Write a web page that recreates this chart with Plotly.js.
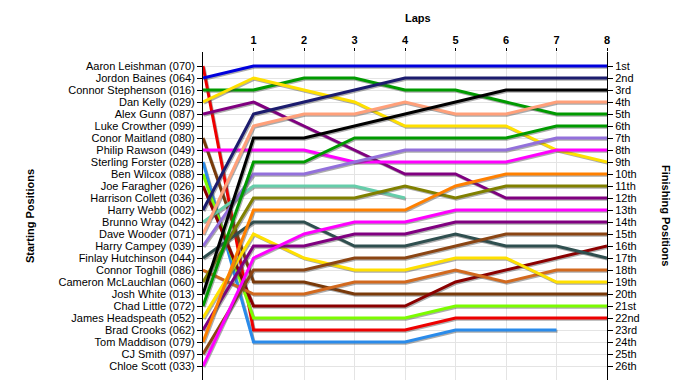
<!DOCTYPE html>
<html>
<head>
<meta charset="utf-8">
<script src="https://cdn.plot.ly/plotly-3.0.1.min.js"></script>
<style>
  html, body { margin: 0; padding: 0; background: #ffffff; }
  #chart { width: 700px; height: 390px; }
</style>
</head>
<body>
<div id="chart"></div>
<script>
// ---------- DATA ----------
const laps = [0, 1, 2, 3, 4, 5, 6, 7, 8];
const lapTicks = [1, 2, 3, 4, 5, 6, 7, 8];

const startNames = [
  "Aaron Leishman (070)", "Jordon Baines (064)", "Connor Stephenson (016)", "Dan Kelly (029)",
  "Alex Gunn (087)", "Luke Crowther (099)", "Conor Maitland (080)", "Philip Rawson (049)",
  "Sterling Forster (028)", "Ben Wilcox (088)", "Joe Faragher (026)", "Harrison Collett (036)",
  "Harry Webb (002)", "Brunno Wray (042)", "Dave Wooder (071)", "Harry Campey (039)",
  "Finlay Hutchinson (044)", "Connor Toghill (086)", "Cameron McLauchlan (060)", "Josh White (013)",
  "Chad Little (072)", "James Headspeath (052)", "Brad Crooks (062)", "Tom Maddison (079)",
  "CJ Smith (097)", "Chloe Scott (033)"
];
const finishLabels = [
  "1st","2nd","3rd","4th","5th","6th","7th","8th","9th","10th","11th","12th","13th",
  "14th","15th","16th","17th","18th","19th","20th","21st","22nd","23rd","24th","25th","26th"
];
const positionTicks = [1,2,3,4,5,6,7,8,9,10,11,12,13,14,15,16,17,18,19,20,21,22,23,24,25,26];

// position of each driver at laps 0..8 (null = retired)
const aaronLeishman    = [1, 23, 23, 23, 23, 22, 22, 22, 22];
const jordonBaines     = [2, 1, 1, 1, 1, 1, 1, 1, 1];
const connorStephenson = [3, 3, 2, 2, 3, 3, 4, 5, 5];
const danKelly         = [4, 2, 3, 4, 6, 6, 6, 8, 9];
const alexGunn         = [5, 4, 6, 8, 10, 10, 12, 12, 12];
const conorMaitland    = [7, 19, 19, 20, 20, 20, 20, 20, 20];
const philipRawson     = [8, 8, 8, 9, 9, 9, 9, 8, 8];
const sterlingForster  = [9, 24, 24, 24, 24, 23, 23, 23, null];
const benWilcox        = [10, 22, 22, 22, 22, 21, 21, 21, 21];
const joeFaragher      = [11, 21, 21, 21, 21, 19, 18, 17, 16];
const harryWebb        = [13, 5, 4, 3, 2, 2, 2, 2, 2];
const brunnoWray       = [14, 11, 11, 11, 12, null, null, null, null];
const daveWooder       = [15, 6, 5, 5, 4, 5, 5, 4, 4];
const harryCampey      = [16, 10, 10, 9, 8, 8, 8, 7, 7];
const finlayHutchinson = [17, 14, 14, 16, 16, 15, 16, 16, 17];
const connorToghill    = [18, 20, 20, 19, 19, 18, 19, 18, 18];
const cameronMcLauchlan= [19, 12, 12, 12, 11, 12, 11, 11, 11];
const joshWhite        = [20, 7, 7, 6, 5, 4, 3, 3, 3];
const chadLittle       = [21, 9, 9, 7, 7, 7, 7, 6, 6];
const jamesHeadspeath  = [22, 15, 17, 18, 18, 17, 17, 19, 19];
const bradCrooks       = [23, 16, 16, 15, 15, 14, 14, 14, 14];
const tomMaddison      = [24, 13, 13, 13, 13, 11, 10, 10, 10];
const cjSmith          = [25, 18, 18, 17, 17, 16, 15, 15, 15];
const chloeScott       = [26, 17, 15, 14, 14, 13, 13, 13, 13];

// ---------- STYLE ----------
const seriesList = [
  [aaronLeishman,     "#EE0000"],
  [jordonBaines,      "#0000DD"],
  [connorStephenson,  "#009A00"],
  [danKelly,          "#FFE000"],
  [alexGunn,          "#800080"],
  [conorMaitland,     "#7A3A0A"],
  [philipRawson,      "#FF00FF"],
  [sterlingForster,   "#2A8BEA"],
  [benWilcox,         "#7CFC00"],
  [joeFaragher,       "#8B0000"],
  [harryWebb,         "#1C1C6E"],
  [brunnoWray,        "#66CDAA"],
  [daveWooder,        "#FFA07A"],
  [harryCampey,       "#9370DB"],
  [finlayHutchinson,  "#2F4F4F"],
  [connorToghill,     "#D2691E"],
  [cameronMcLauchlan, "#808000"],
  [joshWhite,         "#000000"],
  [chadLittle,        "#009A00"],
  [jamesHeadspeath,   "#FFE000"],
  [bradCrooks,        "#800080"],
  [tomMaddison,       "#FF8000"],
  [cjSmith,           "#8B4513"],
  [chloeScott,        "#FF00FF"]
];

const traces = [];
seriesList.forEach(([vals, color]) => {
  // soft drop shadow, derived from the same data
  traces.push({
    x: laps.map(v => v + 0.02),
    y: vals.map(v => (v === null ? null : v + 0.1)),
    type: "scatter", mode: "lines",
    line: { color: "rgba(70,70,70,0.45)", width: 3 },
    hoverinfo: "skip", showlegend: false, connectgaps: false
  });
  traces.push({
    x: laps, y: vals,
    type: "scatter", mode: "lines",
    line: { color: color, width: 3 },
    hoverinfo: "skip", showlegend: false, connectgaps: false
  });
});
// empty trace to bind right axis
traces.push({ x: [], y: [], yaxis: "y2", type: "scatter", mode: "lines", showlegend: false, hoverinfo: "skip" });

const baseFont = { family: "Liberation Sans, Arial, sans-serif", size: 11, color: "#000000" };
const yRange = [27.167, -0.167];

const layout = {
  width: 700, height: 390,
  margin: { l: 203, r: 93, t: 52, b: 10 },
  paper_bgcolor: "#ffffff",
  plot_bgcolor: "#ffffff",
  font: baseFont,
  showlegend: false,
  xaxis: {
    side: "top",
    range: [0, 8],
    tickvals: lapTicks,
    ticks: "outside", ticklen: 3, tickcolor: "#000000",
    tickfont: { family: baseFont.family, size: 11, color: "#000", weight: "bold" },
    showline: false,
    showgrid: true, gridcolor: "#E4E4E4", gridwidth: 1,
    zeroline: false, fixedrange: true
  },
  yaxis: {
    range: yRange,
    tickvals: positionTicks,
    ticktext: startNames,
    ticks: "outside", ticklen: 5, tickcolor: "#000000",
    showline: true, linecolor: "#000000", linewidth: 1,
    showgrid: true, gridcolor: "#E4E4E4", gridwidth: 1,
    zeroline: false, fixedrange: true,
    tickfont: baseFont
  },
  yaxis2: {
    overlaying: "y", side: "right",
    range: yRange,
    tickvals: positionTicks,
    ticktext: finishLabels,
    ticks: "outside", ticklen: 5, tickcolor: "#000000",
    showline: true, linecolor: "#000000", linewidth: 1,
    showgrid: false, zeroline: false, fixedrange: true,
    tickfont: baseFont
  },
  annotations: [
    { text: "Laps", xref: "paper", yref: "paper", x: 0.532, y: 1.104,
      xanchor: "center", yanchor: "middle", showarrow: false,
      font: { family: baseFont.family, size: 11, color: "#000", weight: "bold" } },
    { text: "Starting Positions", xref: "paper", yref: "paper", x: -0.428, y: 0.5,
      xanchor: "center", yanchor: "middle", showarrow: false, textangle: -90,
      font: { family: baseFont.family, size: 11, color: "#000", weight: "bold" } },
    { text: "Finishing Positions", xref: "paper", yref: "paper", x: 1.146, y: 0.5,
      xanchor: "center", yanchor: "middle", showarrow: false, textangle: 90,
      font: { family: baseFont.family, size: 11, color: "#000", weight: "bold" } }
  ]
};

Plotly.newPlot("chart", traces, layout, { staticPlot: true, displayModeBar: false });
</script>
</body>
</html>
